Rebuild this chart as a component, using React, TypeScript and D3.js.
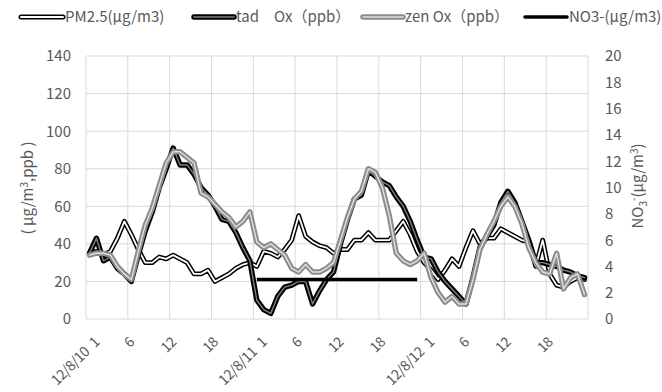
import React from "react";
import * as d3 from "d3";

const days = ["12/8/10", "12/8/11", "12/8/12"];
const tickLabels = ["12/8/10 1", "6", "12", "18", "12/8/11 1", "6", "12", "18", "12/8/12 1", "6", "12", "18"];
const tickIndex = [0, 5, 11, 17, 24, 29, 35, 41, 48, 53, 59, 65];
const leftTicks = [0, 20, 40, 60, 80, 100, 120, 140];
const rightTicks = [0, 2, 4, 6, 8, 10, 12, 14, 16, 18, 20];

const pm25 = [
  35, 36, 34, 36, 43, 52, 45, 37, 30, 30, 33, 32, 34, 32, 30, 24, 24, 26, 20, 22, 24, 27, 29, 30,
  28, 36, 35, 33, 37, 42, 55, 44, 41, 39, 38, 35, 37, 37, 42, 42, 46, 42, 42, 42, 47, 52, 45, 36,
  30, 26, 21, 26, 32, 28, 38, 47, 40, 43, 43, 48, 46, 44, 42, 41, 28, 42, 24, 18, 17, 20, 22, 21,
];
const tadOx = [
  35, 43, 31, 33, 27, 24, 20, 34, 47, 57, 70, 80, 91, 82, 82, 77, 70, 66, 60, 53, 52, 46, 38, 31,
  10, 5, 3, 12, 17, 18, 20, 20, 8, 15, 21, 25, 40, 53, 64, 66, 79, 76, 73, 71, 65, 60, 52, 42,
  33, 32, 25, 20, 16, 12, 8, 22, 38, 44, 50, 62, 68, 62, 52, 42, 30, 30, 29, 28, 26, 25, 23, 22,
];
const zenOx = [
  34, 35, 35, 34, 28, 24, 21, 36, 50, 59, 71, 83, 89, 89, 86, 83, 67, 65, 61, 57, 54, 49, 52, 57,
  41, 38, 40, 37, 34, 27, 25, 29, 25, 25, 27, 30, 42, 54, 64, 68, 80, 78, 70, 55, 35, 31, 29, 31,
  35, 22, 14, 9, 12, 8, 8, 21, 37, 45, 52, 60, 65, 60, 51, 38, 30, 25, 24, 35, 16, 22, 24, 13,
];
const no3: (number | null)[] = [
  null, null, null, null, null, null, null, null, null, null, null, null, null, null, null, null, null, null, null, null, null, null, null, null,
  3, 3, 3, 3, 3, 3, 3, 3, 3, 3, 3, 3, 3, 3, 3, 3, 3, 3, 3, 3, 3, 3, 3, 3,
  null, null, null, null, null, null, null, null, null, null, null, null, null, null, null, null, null, null, null, null, null, null, null, null,
];

const categories: string[] = [];
days.forEach((d) => {
  for (let h = 1; h <= 24; h++) categories.push(`${d} ${h}`);
});

const W = 662;
const H = 392;
const FONT = "'Noto Sans CJK JP', 'Noto Sans', sans-serif";
const TXT = "#595959";

export default function App() {
  const x = d3.scaleLinear().domain([0, categories.length]).range([86, 588]);
  const yL = d3.scaleLinear().domain([0, 140]).range([319, 56]);
  const yR = d3.scaleLinear().domain([0, 20]).range([319, 56]);
  const cx = (i: number) => x(i + 0.5);

  const lineL = d3
    .line<number | null>()
    .defined((d) => d != null)
    .x((_, i) => cx(i))
    .y((d) => yL(d as number));
  const lineR = d3
    .line<number | null>()
    .defined((d) => d != null)
    .x((_, i) => cx(i))
    .y((d) => yR(d as number));

  const vGrid = d3.range(0, categories.length + 1, 6);

  const series = [
    { name: "PM2.5(μg/m3)", data: pm25, outer: "#000", ow: 4.8, inner: "#fff", iw: 1.8, line: lineL },
    { name: "tad\u3000Ox（ppb）", data: tadOx, outer: "#000", ow: 5.4, inner: "#7f7f7f", iw: 1.4, line: lineL },
    { name: "zen Ox（ppb）", data: zenOx, outer: "#8c8c8c", ow: 5.4, inner: "#e0e0e0", iw: 1.4, line: lineL },
  ];

  const legend = [
    { x1: 21, x2: 63, tx: 65, label: "PM2.5(μg/m3)", outer: "#000", ow: 5, inner: "#fff", iw: 2 },
    { x1: 194, x2: 234, tx: 236, label: "tad\u3000Ox（ppb）", outer: "#000", ow: 5.5, inner: "#7f7f7f", iw: 1.6 },
    { x1: 363, x2: 403, tx: 405, label: "zen Ox（ppb）", outer: "#8c8c8c", ow: 5.5, inner: "#e0e0e0", iw: 1.6 },
    { x1: 525, x2: 567, tx: 569, label: "NO3-(μg/m3)", outer: "#000", ow: 3.5, inner: null, iw: 0 },
  ];

  return (
    <svg
      width={W}
      height={H}
      style={{ position: "absolute", left: 0, top: 0, background: "#fff" }}
      fontFamily={FONT}
    >
      <rect width={W} height={H} fill="#fff" />
      {leftTicks.map((t) => (
        <line key={"h" + t} x1={86} x2={588} y1={yL(t)} y2={yL(t)} stroke="#d9d9d9" strokeWidth={1} />
      ))}
      {vGrid.map((g) => (
        <line key={"v" + g} x1={x(g)} x2={x(g)} y1={yL(140)} y2={yL(0)} stroke="#d9d9d9" strokeWidth={1} />
      ))}
      {leftTicks.map((t) => (
        <text key={"lt" + t} x={71} y={yL(t)} dy="0.36em" textAnchor="end" fontSize={15} fill={TXT}>
          {t}
        </text>
      ))}
      {rightTicks.map((t) => (
        <text key={"rt" + t} x={605} y={yR(t)} dy="0.36em" textAnchor="start" fontSize={15} fill={TXT}>
          {t}
        </text>
      ))}
      {tickLabels.map((l, k) => {
        const gx = cx(tickIndex[k]) + 4;
        const gy = 336;
        return (
          <text
            key={"xl" + k}
            transform={`translate(${gx},${gy}) rotate(-45)`}
            textAnchor="end"
            dy="0.7em"
            fontSize={14}
            letterSpacing={-0.4}
            fill={TXT}
          >
            {l.replace(" ", "\u2002")}
          </text>
        );
      })}
      <text transform={`translate(33,188) rotate(-90)`} textAnchor="middle" fontSize={15} fill={TXT}>
        {"( μg/m"}
        <tspan dy="-5" fontSize={10}>3</tspan>
        <tspan dy="5">{",ppb )"}</tspan>
      </text>
      <text transform={`translate(643,186) rotate(-90)`} textAnchor="middle" fontSize={15} fill={TXT}>
        {"NO"}
        <tspan dy="4" fontSize={10}>3</tspan>
        <tspan dy="-10" fontSize={10}>-</tspan>
        <tspan dy="6">{"(μg/m"}</tspan>
        <tspan dy="-5" fontSize={10}>3</tspan>
        <tspan dy="5">{")"}</tspan>
      </text>
      {series.map((s) => (
        <g key={s.name}>
          <path d={s.line(s.data) || ""} fill="none" stroke={s.outer} strokeWidth={s.ow} strokeLinejoin="round" strokeLinecap="round" />
          <path d={s.line(s.data) || ""} fill="none" stroke={s.inner} strokeWidth={s.iw} strokeLinejoin="round" strokeLinecap="round" />
        </g>
      ))}
      <path d={lineR(no3) || ""} fill="none" stroke="#000" strokeWidth={3.5} strokeLinejoin="round" />
      {legend.map((l) => (
        <g key={l.label}>
          <line x1={l.x1} x2={l.x2} y1={17} y2={17} stroke={l.outer} strokeWidth={l.ow} strokeLinecap="round" />
          {l.inner && <line x1={l.x1} x2={l.x2} y1={17} y2={17} stroke={l.inner} strokeWidth={l.iw} strokeLinecap="round" />}
          <text x={l.tx} y={17} dy="0.36em" fontSize={15} fill={TXT}>
            {l.label}
          </text>
        </g>
      ))}
    </svg>
  );
}
